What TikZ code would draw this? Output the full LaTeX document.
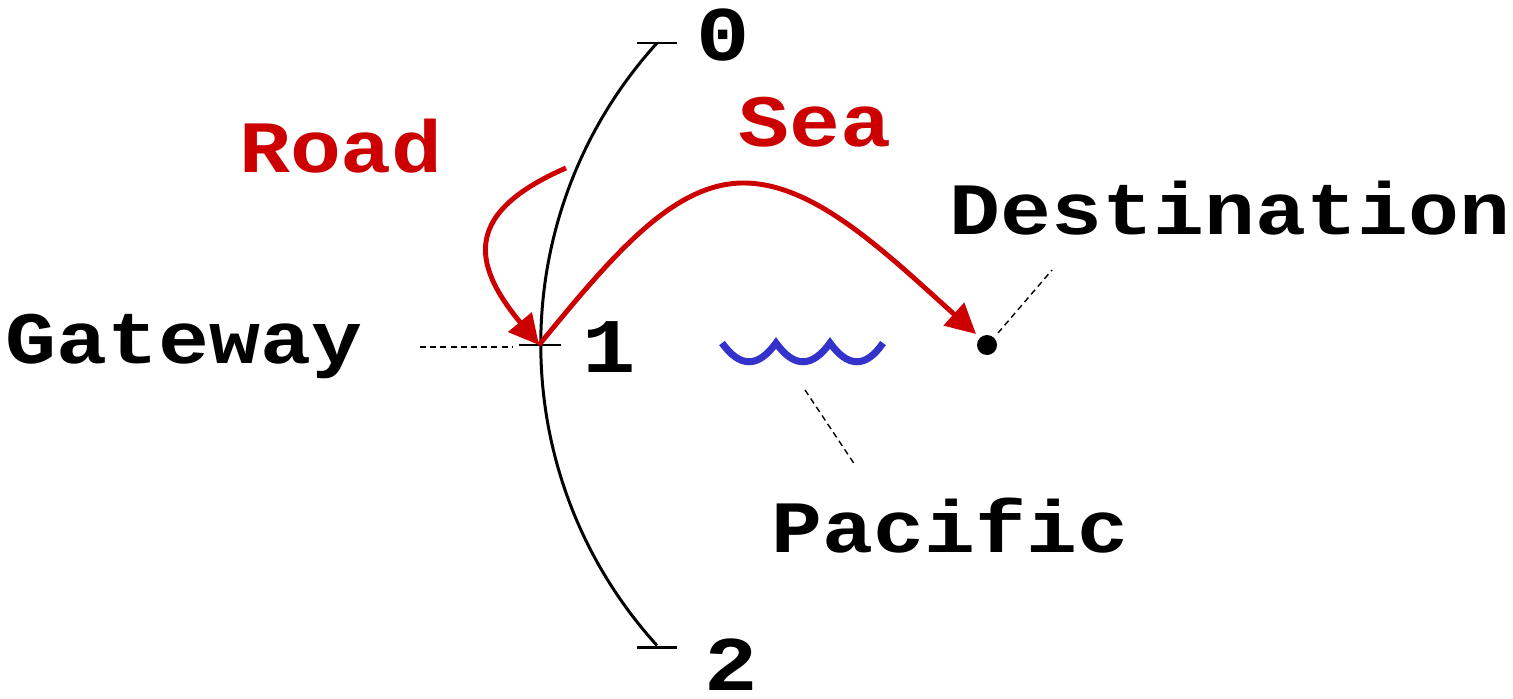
\documentclass[tikz,border=0pt]{standalone}
\usepackage{fontspec}
\setmonofont[FakeStretch=1.15]{Liberation Mono}
\usetikzlibrary{arrows.meta}
\tikzset{
  lbl/.style={font=\ttfamily\bfseries\fontsize{42}{46}\selectfont, inner sep=0pt, anchor=base},
  numlbl/.style={lbl, font=\ttfamily\bfseries\fontsize{44}{48}\selectfont},
  redlbl/.style={lbl, text={rgb,255:red,204;green,0;blue,0}},
  axis/.style={line width=1.7pt, black},
  tick/.style={line width=1.7pt, black},
  leader/.style={line width=0.8pt, dash pattern=on 3.4pt off 2.4pt},
  route/.style={line width=2.8pt, draw={rgb,255:red,204;green,0;blue,0}, -{Triangle[length=17pt,width=17pt]}},
  wave/.style={line width=4pt, draw={rgb,255:red,51;green,51;blue,204}},
}
\begin{document}
\begin{tikzpicture}[x=0.02cm, y=-0.02cm]
\useasboundingbox (0,0) rectangle (1513,699);
% arc around destination
\coordinate (dest) at (987,345);
\coordinate (p0) at (657,43);
\coordinate (p1) at (539,345);
\coordinate (p2) at (657,647);
\draw[axis] (p0) arc[start angle=222.2, end angle=137.8, radius=448.5];
% ticks
\draw[tick] (637,43) -- (677,43);
\draw[tick] (519,345) -- (561,345);
\draw[tick] (637,647) -- (677,647);
% labels
\node[numlbl] (l0) at (723,61) {0};
\node[numlbl] (l1) at (609,372) {1};
\node[numlbl] (l2) at (731,690) {2};
\node[lbl] (gw) at (184,363) {Gateway};
\node[lbl] (dn) at (1230,235) {Destination};
\node[lbl] (pc) at (950,552) {Pacific};
\node[redlbl] (road) at (341,173) {Road};
\node[redlbl] (sea) at (815,147) {Sea};
% destination dot
\fill (dest) circle[radius=10];
% leaders
\coordinate (gwa) at (420,347);
\coordinate (gwb) at (512,347);
\draw[leader] (gwa) -- (gwb);
\coordinate (dna) at (998,333);
\coordinate (dnb) at (1052,270);
\draw[leader] (dna) -- (dnb);
\coordinate (pca) at (805,390);
\coordinate (pcb) at (855,465);
\draw[leader] (pca) -- (pcb);
% wave
\coordinate (w0) at (722,343);
\coordinate (w1) at (776,343);
\coordinate (w2) at (830,343);
\coordinate (w3) at (883,343);
\draw[wave] (w0) .. controls (740,368) and (758,368) .. (w1)
  .. controls (794,368) and (812,368) .. (w2)
  .. controls (848,368) and (866,368) .. (w3);
% routes
\coordinate (rs) at (566,168);
\coordinate (rmid) at (745,183);
\coordinate (se) at (976,334);
\draw[route] (rs) .. controls (465,212) and (470,262) .. (p1);
\draw[route] (p1) .. controls (615,252) and (675,182) .. (rmid)
  .. controls (815,184) and (885,252) .. (se);
\end{tikzpicture}
\end{document}
